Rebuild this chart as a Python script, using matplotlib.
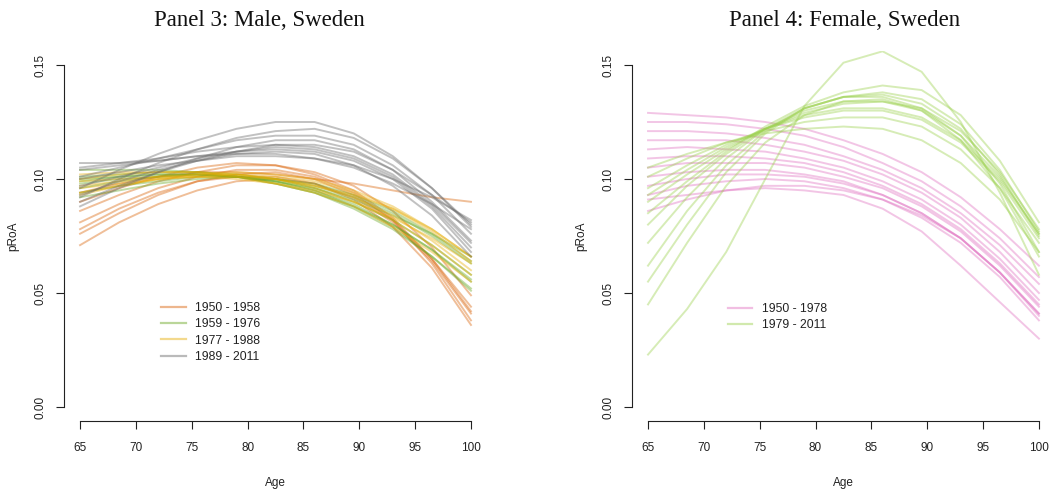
import matplotlib
matplotlib.use("Agg")
from matplotlib import pyplot as plt

ages = [65, 68.5, 72, 75.5, 79, 82.5, 86, 89.5, 93, 96.5, 100]

# ---- Panel 3: Male, Sweden ----
male_1950_1958 = [
    [0.071, 0.081, 0.089, 0.095, 0.099, 0.100, 0.098, 0.092, 0.081, 0.064, 0.041],
    [0.076, 0.085, 0.093, 0.099, 0.102, 0.103, 0.100, 0.093, 0.082, 0.065, 0.044],
    [0.081, 0.089, 0.096, 0.101, 0.104, 0.104, 0.101, 0.094, 0.082, 0.063, 0.038],
    [0.086, 0.093, 0.099, 0.103, 0.106, 0.106, 0.103, 0.097, 0.086, 0.070, 0.049],
    [0.090, 0.096, 0.101, 0.105, 0.107, 0.106, 0.102, 0.095, 0.083, 0.065, 0.042],
    [0.078, 0.087, 0.094, 0.099, 0.101, 0.101, 0.098, 0.091, 0.079, 0.061, 0.036],
    [0.094, 0.098, 0.101, 0.103, 0.103, 0.102, 0.100, 0.098, 0.095, 0.092, 0.090],
]
male_1959_1976 = [
    [0.098, 0.100, 0.101, 0.102, 0.101, 0.099, 0.095, 0.089, 0.080, 0.069, 0.055],
    [0.101, 0.102, 0.103, 0.103, 0.102, 0.100, 0.096, 0.090, 0.082, 0.071, 0.058],
    [0.104, 0.104, 0.104, 0.103, 0.101, 0.098, 0.094, 0.088, 0.080, 0.069, 0.056],
    [0.094, 0.097, 0.099, 0.101, 0.101, 0.100, 0.097, 0.092, 0.085, 0.075, 0.063],
    [0.096, 0.099, 0.101, 0.102, 0.101, 0.099, 0.095, 0.088, 0.079, 0.066, 0.051],
    [0.100, 0.101, 0.102, 0.102, 0.101, 0.099, 0.096, 0.091, 0.084, 0.076, 0.066],
    [0.092, 0.095, 0.098, 0.100, 0.101, 0.100, 0.098, 0.093, 0.086, 0.076, 0.064],
    [0.099, 0.101, 0.102, 0.102, 0.101, 0.098, 0.094, 0.087, 0.078, 0.066, 0.052],
]
male_1977_1988 = [
    [0.097, 0.099, 0.101, 0.102, 0.102, 0.100, 0.097, 0.092, 0.084, 0.073, 0.060],
    [0.100, 0.102, 0.103, 0.103, 0.102, 0.100, 0.096, 0.090, 0.082, 0.071, 0.058],
    [0.094, 0.097, 0.100, 0.101, 0.102, 0.101, 0.099, 0.094, 0.087, 0.077, 0.064],
    [0.102, 0.103, 0.103, 0.103, 0.101, 0.098, 0.094, 0.088, 0.079, 0.068, 0.055],
    [0.096, 0.098, 0.100, 0.101, 0.101, 0.100, 0.097, 0.093, 0.087, 0.078, 0.066],
    [0.093, 0.097, 0.100, 0.102, 0.103, 0.102, 0.100, 0.095, 0.088, 0.078, 0.066],
    [0.099, 0.100, 0.101, 0.101, 0.100, 0.098, 0.095, 0.090, 0.083, 0.074, 0.063],
]
male_1989_2011 = [
    [0.096, 0.104, 0.111, 0.117, 0.122, 0.125, 0.125, 0.120, 0.110, 0.096, 0.079],
    [0.092, 0.100, 0.107, 0.113, 0.118, 0.121, 0.122, 0.118, 0.109, 0.096, 0.080],
    [0.101, 0.105, 0.109, 0.113, 0.117, 0.119, 0.119, 0.115, 0.106, 0.093, 0.076],
    [0.088, 0.096, 0.103, 0.109, 0.114, 0.117, 0.117, 0.113, 0.104, 0.090, 0.073],
    [0.105, 0.107, 0.109, 0.112, 0.114, 0.115, 0.114, 0.110, 0.102, 0.089, 0.072],
    [0.097, 0.101, 0.105, 0.109, 0.112, 0.114, 0.113, 0.109, 0.101, 0.088, 0.070],
    [0.107, 0.107, 0.108, 0.110, 0.112, 0.113, 0.112, 0.108, 0.100, 0.087, 0.068],
    [0.093, 0.099, 0.104, 0.108, 0.111, 0.112, 0.111, 0.106, 0.097, 0.084, 0.066],
    [0.100, 0.103, 0.106, 0.108, 0.110, 0.110, 0.109, 0.105, 0.098, 0.089, 0.078],
    [0.090, 0.097, 0.103, 0.108, 0.112, 0.115, 0.115, 0.112, 0.104, 0.093, 0.081],
    [0.104, 0.106, 0.108, 0.110, 0.111, 0.111, 0.109, 0.106, 0.100, 0.092, 0.082],
]
male_labels = ["1950 - 1958", "1959 - 1976", "1977 - 1988", "1989 - 2011"]
male_colors = ["#D95F02", "#66A61E", "#E6AB02", "#666666"]

# ---- Panel 4: Female, Sweden ----
female_1950_1978 = [
    [0.129, 0.128, 0.127, 0.125, 0.122, 0.117, 0.111, 0.103, 0.092, 0.078, 0.062],
    [0.125, 0.125, 0.124, 0.122, 0.119, 0.114, 0.107, 0.099, 0.088, 0.074, 0.057],
    [0.121, 0.121, 0.120, 0.118, 0.115, 0.110, 0.104, 0.096, 0.085, 0.071, 0.054],
    [0.117, 0.117, 0.117, 0.115, 0.112, 0.108, 0.102, 0.094, 0.083, 0.068, 0.050],
    [0.113, 0.114, 0.113, 0.112, 0.109, 0.105, 0.099, 0.091, 0.080, 0.065, 0.047],
    [0.109, 0.110, 0.110, 0.109, 0.107, 0.103, 0.097, 0.089, 0.078, 0.063, 0.045],
    [0.105, 0.107, 0.107, 0.107, 0.105, 0.101, 0.096, 0.088, 0.077, 0.062, 0.044],
    [0.101, 0.103, 0.104, 0.104, 0.102, 0.099, 0.093, 0.085, 0.074, 0.059, 0.041],
    [0.097, 0.100, 0.102, 0.102, 0.101, 0.098, 0.093, 0.085, 0.074, 0.059, 0.040],
    [0.093, 0.097, 0.099, 0.100, 0.099, 0.096, 0.091, 0.083, 0.072, 0.057, 0.038],
    [0.086, 0.091, 0.095, 0.097, 0.097, 0.095, 0.091, 0.084, 0.074, 0.059, 0.041],
    [0.091, 0.093, 0.095, 0.096, 0.095, 0.093, 0.087, 0.077, 0.062, 0.046, 0.030],
]
female_1979_2011 = [
    [0.085, 0.099, 0.112, 0.123, 0.132, 0.138, 0.141, 0.139, 0.128, 0.108, 0.081],
    [0.072, 0.092, 0.109, 0.122, 0.131, 0.136, 0.138, 0.135, 0.124, 0.104, 0.077],
    [0.062, 0.086, 0.106, 0.121, 0.131, 0.136, 0.137, 0.133, 0.122, 0.102, 0.075],
    [0.090, 0.102, 0.113, 0.122, 0.129, 0.133, 0.134, 0.131, 0.121, 0.103, 0.078],
    [0.096, 0.106, 0.115, 0.122, 0.127, 0.130, 0.130, 0.126, 0.116, 0.099, 0.074],
    [0.101, 0.109, 0.116, 0.121, 0.125, 0.127, 0.127, 0.123, 0.113, 0.096, 0.072],
    [0.080, 0.097, 0.111, 0.122, 0.130, 0.134, 0.134, 0.130, 0.119, 0.101, 0.076],
    [0.105, 0.111, 0.116, 0.120, 0.122, 0.123, 0.122, 0.117, 0.107, 0.091, 0.068],
    [0.055, 0.080, 0.103, 0.120, 0.131, 0.136, 0.136, 0.131, 0.119, 0.098, 0.068],
    [0.045, 0.072, 0.097, 0.116, 0.128, 0.134, 0.135, 0.130, 0.117, 0.096, 0.066],
    [0.023, 0.043, 0.068, 0.100, 0.132, 0.151, 0.156, 0.147, 0.125, 0.094, 0.058],
    [0.093, 0.104, 0.114, 0.122, 0.128, 0.131, 0.131, 0.127, 0.117, 0.100, 0.076],
]
female_labels = ["1950 - 1978", "1979 - 2011"]
female_colors = ["#E070C0", "#99D04A"]

yticks = [0.00, 0.05, 0.10, 0.15]
xticks = [65, 70, 75, 80, 85, 90, 95, 100]

plt.rcParams['font.family'] = ['Liberation Sans', 'DejaVu Sans']

fig = plt.figure(figsize=(10.51, 4.9), dpi=100)


def draw_panel(ax, groups, labels, colors, legend_anchor):
    # every curve drawn translucent, one legend entry per group
    for curves, label, color in zip(groups, labels, colors):
        for i, curve in enumerate(curves):
            ax.plot(ages, curve, color=color, alpha=0.4, linewidth=1.4,
                    solid_joinstyle='round', label=label if i == 0 else None)
    ax.set_xlim(63.6, 101.4)
    ax.set_ylim(-0.006, 0.156)
    for side in ['top', 'right']:
        ax.spines[side].set_visible(False)
    ax.spines['left'].set_bounds(0, 0.15)
    ax.spines['bottom'].set_bounds(65, 100)
    for side in ['left', 'bottom']:
        ax.spines[side].set_linewidth(0.8)
        ax.spines[side].set_color('#222222')
    ax.set_xticks(xticks)
    ax.set_xticklabels([str(t) for t in xticks])
    ax.set_yticks(yticks)
    ax.set_yticklabels(["%.2f" % t for t in yticks], rotation=90, va='center')
    ax.tick_params(direction='out', length=6, width=0.8, color='#222222',
                   labelsize=8.5, labelcolor='#222222')
    ax.tick_params(axis='x', pad=9)
    ax.tick_params(axis='y', pad=7)
    ax.set_xlabel("Age", fontsize=8.5, color='#222222', labelpad=17)
    ax.set_ylabel("pRoA", fontsize=8.5, color='#222222', labelpad=11)
    leg = ax.legend(loc='upper left', bbox_to_anchor=legend_anchor, frameon=False,
                    fontsize=8.8, handlelength=2.0, handletextpad=0.8,
                    labelspacing=0.35, borderpad=0, borderaxespad=0)
    for line in leg.get_lines():
        line.set_alpha(0.45)
        line.set_linewidth(1.6)
    for text in leg.get_texts():
        text.set_color('#222222')


ax1 = fig.add_axes([0.0613, 0.1414, 0.4017, 0.7539])
draw_panel(ax1, [male_1950_1958, male_1959_1976, male_1977_1988, male_1989_2011],
           male_labels, male_colors, (0.229, 0.321))

ax2 = fig.add_axes([0.6017, 0.1414, 0.4017, 0.7539])
draw_panel(ax2, [female_1950_1978, female_1979_2011],
           female_labels, female_colors, (0.226, 0.319))

title_font = ['Liberation Serif', 'DejaVu Serif']
fig.text(259 / 1051, 1 - 20 / 490, "Panel 3: Male, Sweden", ha='center', va='center',
         fontsize=16.5, family=title_font, color='#111111')
fig.text(845 / 1051, 1 - 20 / 490, "Panel 4: Female, Sweden", ha='center', va='center',
         fontsize=16.5, family=title_font, color='#111111')

fig.savefig("out.png", dpi=100)
